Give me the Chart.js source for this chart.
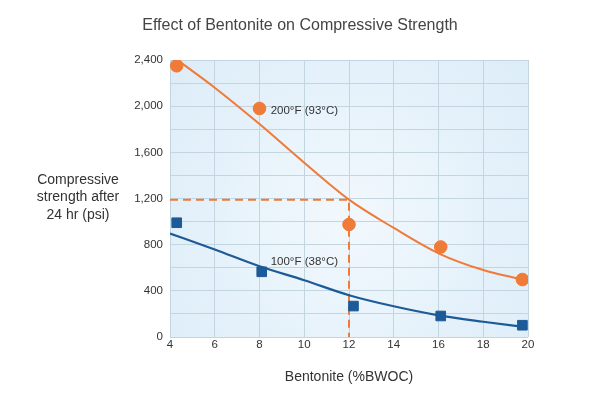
<!DOCTYPE html>
<html>
<head>
<meta charset="utf-8">
<script src="https://cdn.jsdelivr.net/npm/chart.js@4/dist/chart.umd.min.js"></script>
<style>
html,body{margin:0;padding:0;background:#fff;}
#wrap{position:relative;width:600px;height:400px;}
</style>
</head>
<body>
<div id="wrap"><canvas id="c" width="600" height="400"></canvas></div>
<script>
// Measured points
const hotX = [4.3, 8.0, 12.0, 16.1, 19.75];
const hotY = [2350, 1980, 975, 780, 498];
const warmX = [4.3, 8.1, 12.2, 16.1, 19.75];
const warmY = [990, 565, 268, 182, 102];
// Fitted curves as drawn
const hotCurveX = [4.4, 6, 8, 10, 12, 14, 16, 18, 19.75];
const hotCurveY = [2390, 2160, 1845, 1510, 1190, 945, 725, 580, 498];
const warmCurveX = [4, 6, 8, 10, 12, 14, 16, 18, 19.9];
const warmCurveY = [897, 758, 613, 492, 362, 266, 188, 132, 85];
// Dashed reference
const refX = [4, 12, 12];
const refY = [1190, 1190, 0];
const xTicks = [4, 6, 8, 10, 12, 14, 16, 18, 20];
const yTicks = [0, 400, 800, 1200, 1600, 2000, 2400];
const title = 'Effect of Bentonite on Compressive Strength';
const labels = ['200°F (93°C)', '100°F (38°C)'];
const labelPos = [[8.5, 1960], [8.5, 650]];
const yTitle = ['Compressive', 'strength after', '24 hr (psi)'];

const ORANGE = '#f07a38';
const BLUE = '#1d5a98';
const FONT = "'Liberation Sans', Arial, sans-serif";

const pts = (xs, ys) => xs.map((x, i) => ({x: x, y: ys[i]}));

const bgPlugin = {
  id: 'bg',
  beforeDraw(chart) {
    const {ctx, chartArea: a} = chart;
    const cx = (a.left + a.right) / 2, cy = (a.top + a.bottom) / 2 + 20;
    const g = ctx.createRadialGradient(cx, cy, 10, cx, cy, 250);
    g.addColorStop(0, '#f1f8fd');
    g.addColorStop(1, '#dbecf8');
    ctx.save();
    ctx.fillStyle = g;
    ctx.fillRect(a.left, a.top, a.right - a.left, a.bottom - a.top);
    ctx.restore();
  },
  afterDraw(chart) {
    const {ctx, scales} = chart;
    ctx.save();
    ctx.textBaseline = 'middle';
    ctx.textAlign = 'center';
    ctx.fillStyle = '#444';
    ctx.font = '16px ' + FONT;
    ctx.fillText(title, 300, 26);
    ctx.fillStyle = '#333';
    ctx.font = '14px ' + FONT;
    yTitle.forEach((t, i) => ctx.fillText(t, 78, 180 + i * 17.5));
    ctx.font = '11.5px ' + FONT;
    ctx.textAlign = 'left';
    labels.forEach((t, i) => {
      ctx.fillText(t, scales.x.getPixelForValue(labelPos[i][0]), scales.y.getPixelForValue(labelPos[i][1]));
    });
    ctx.restore();
  }
};

new Chart(document.getElementById('c'), {
  type: 'scatter',
  data: {
    datasets: [
      {data: pts(hotX, hotY), backgroundColor: ORANGE, borderColor: ORANGE, pointStyle: 'circle', pointRadius: 6.3, pointHoverRadius: 6.3, showLine: false},
      {data: pts(warmX, warmY), backgroundColor: BLUE, borderColor: BLUE, pointStyle: 'rect', pointRadius: 6.8, pointHoverRadius: 6.8, showLine: false},
      {data: pts(hotCurveX, hotCurveY), borderColor: ORANGE, borderWidth: 2, pointRadius: 0, showLine: true, cubicInterpolationMode: 'monotone', fill: false},
      {data: pts(warmCurveX, warmCurveY), borderColor: BLUE, borderWidth: 2.2, pointRadius: 0, showLine: true, cubicInterpolationMode: 'monotone', fill: false},
      {data: pts(refX, refY), borderColor: ORANGE, borderWidth: 2, borderDash: [8, 5], pointRadius: 0, showLine: true, tension: 0, fill: false}
    ]
  },
  options: {
    responsive: false,
    animation: false,
    events: [],
    layout: {padding: {left: 0, right: 72, top: 60, bottom: 0}},
    plugins: {
      legend: {display: false},
      tooltip: {enabled: false},
      title: {display: false}
    },
    scales: {
      x: {
        type: 'linear', min: 4, max: 20,
        afterFit(s) { s.height = 63; },
        afterBuildTicks(s) { s.ticks = xTicks.map(v => ({value: v})); },
        border: {display: false},
        grid: {color: '#c3d5df', lineWidth: 1, drawTicks: false},
        ticks: {color: '#333', padding: 1, font: {family: FONT, size: 11.5}, maxRotation: 0},
        title: {display: true, text: 'Bentonite (%BWOC)', color: '#333', font: {family: FONT, size: 14}, padding: {top: 0, bottom: 14}}
      },
      y: {
        type: 'linear', min: 0, max: 2400,
        afterFit(s) { s.width = 170; },
        afterBuildTicks(s) {
          const t = [];
          for (let v = 0; v <= 2400; v += 200) t.push({value: v});
          s.ticks = t;
        },
        border: {display: false},
        grid: {color: '#c3d5df', lineWidth: 1, drawTicks: false},
        ticks: {
          color: '#333', padding: 7, font: {family: FONT, size: 11.5},
          callback: v => yTicks.includes(v) ? v.toLocaleString('en-US') : ''
        }
      }
    }
  },
  plugins: [bgPlugin]
});
</script>
</body>
</html>
